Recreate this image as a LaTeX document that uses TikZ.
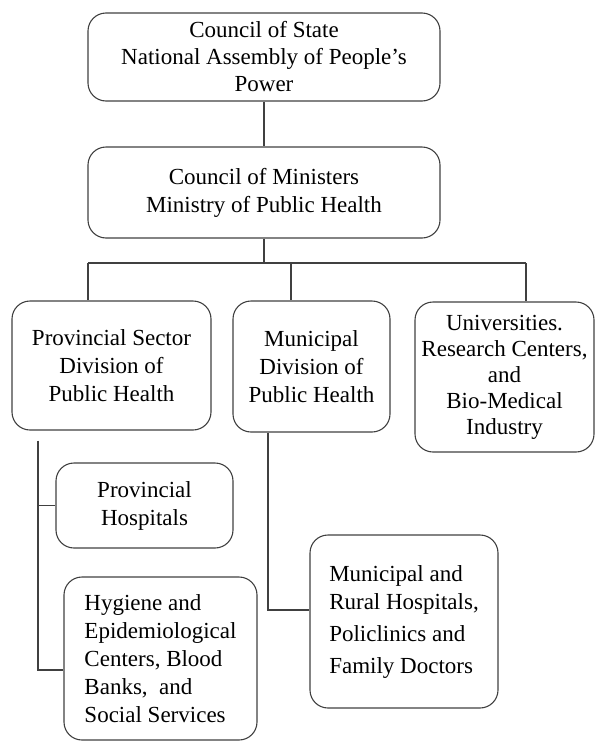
\documentclass[tikz,border=0pt]{standalone}
\usepackage{fontspec}
\setmainfont{Liberation Serif}
\usetikzlibrary{calc}

\begin{document}
\begin{tikzpicture}[x=1pt, y=-1pt,
  unit/.style={draw=black!75, line width=1.1pt, rounded corners=18pt, inner sep=2pt,
    font=\fontsize{23}{28}\selectfont, text=black},
  link/.style={draw=black!75, line width=1.1pt}]

  \useasboundingbox (0,0) rectangle (595,742);

  % Top of the chart
  \node[unit, minimum width=352pt, minimum height=88pt, align=center] (state) at (264,57)
    {Council of State\\[-1pt] National Assembly of People's\\[-1pt] Power};
  \node[unit, minimum width=352pt, minimum height=91pt, align=center] (ministers) at (264,192.5)
    {Council of Ministers\\ Ministry of Public Health};

  % Second level
  \node[unit, minimum width=199pt, minimum height=129pt, align=center] (provsector) at (111.5,365.5)
    {Provincial Sector\\ Division of\\ Public Health};
  \node[unit, minimum width=157pt, minimum height=131pt, align=center] (municipal) at (311.5,366.5)
    {Municipal\\ Division of\\ Public Health};
  \node[unit, minimum width=179pt, minimum height=150pt, align=center] (univ) at (504.5,377)
    {Universities.\\[-2pt] Research Centers,\\[-2pt] and\\[-2pt] Bio-Medical\\[-2pt] Industry};

  % Third level
  \node[unit, minimum width=177pt, minimum height=85pt, align=center] (provhosp) at (144.5,505.5)
    {Provincial\\ Hospitals};
  \node[unit, minimum width=193pt, minimum height=163pt, align=left] (hygiene) at (160.5,658.5)
    {Hygiene and\\ Epidemiological\\ Centers, Blood\\ Banks,\ \ and\\ Social Services};
  \node[unit, minimum width=188pt, minimum height=173pt, align=left] (munhosp) at (404,621.5)
    {Municipal and\\ Rural Hospitals,\\[4pt] Policlinics and\\[4pt] Family Doctors};

  % Links down from the ministry
  \coordinate (d1) at (88,263);
  \coordinate (d2) at (291,263);
  \coordinate (d3) at (526,263);
  \draw[link] (state) -- (ministers);
  \draw[link] (ministers) -- (ministers |- d1);
  \draw[link] (d1) -- (d3);
  \draw[link] (d1) -- (d1 |- provsector.north);
  \draw[link] (d2) -- (d2 |- municipal.north);
  \draw[link] (d3) -- (d3 |- univ.north);

  % Provincial spine
  \coordinate (sp) at (38,0);
  \draw[link] ([yshift=-10pt]provsector.south -| sp) |- ([yshift=-11.5pt]hygiene.west);
  \draw[link] (sp |- provhosp.west) -- (provhosp.west);

  % Municipal spine
  \coordinate (mp) at (268,0);
  \draw[link] (mp |- municipal.south) |- ([yshift=11.5pt]munhosp.west);

\end{tikzpicture}
\end{document}
